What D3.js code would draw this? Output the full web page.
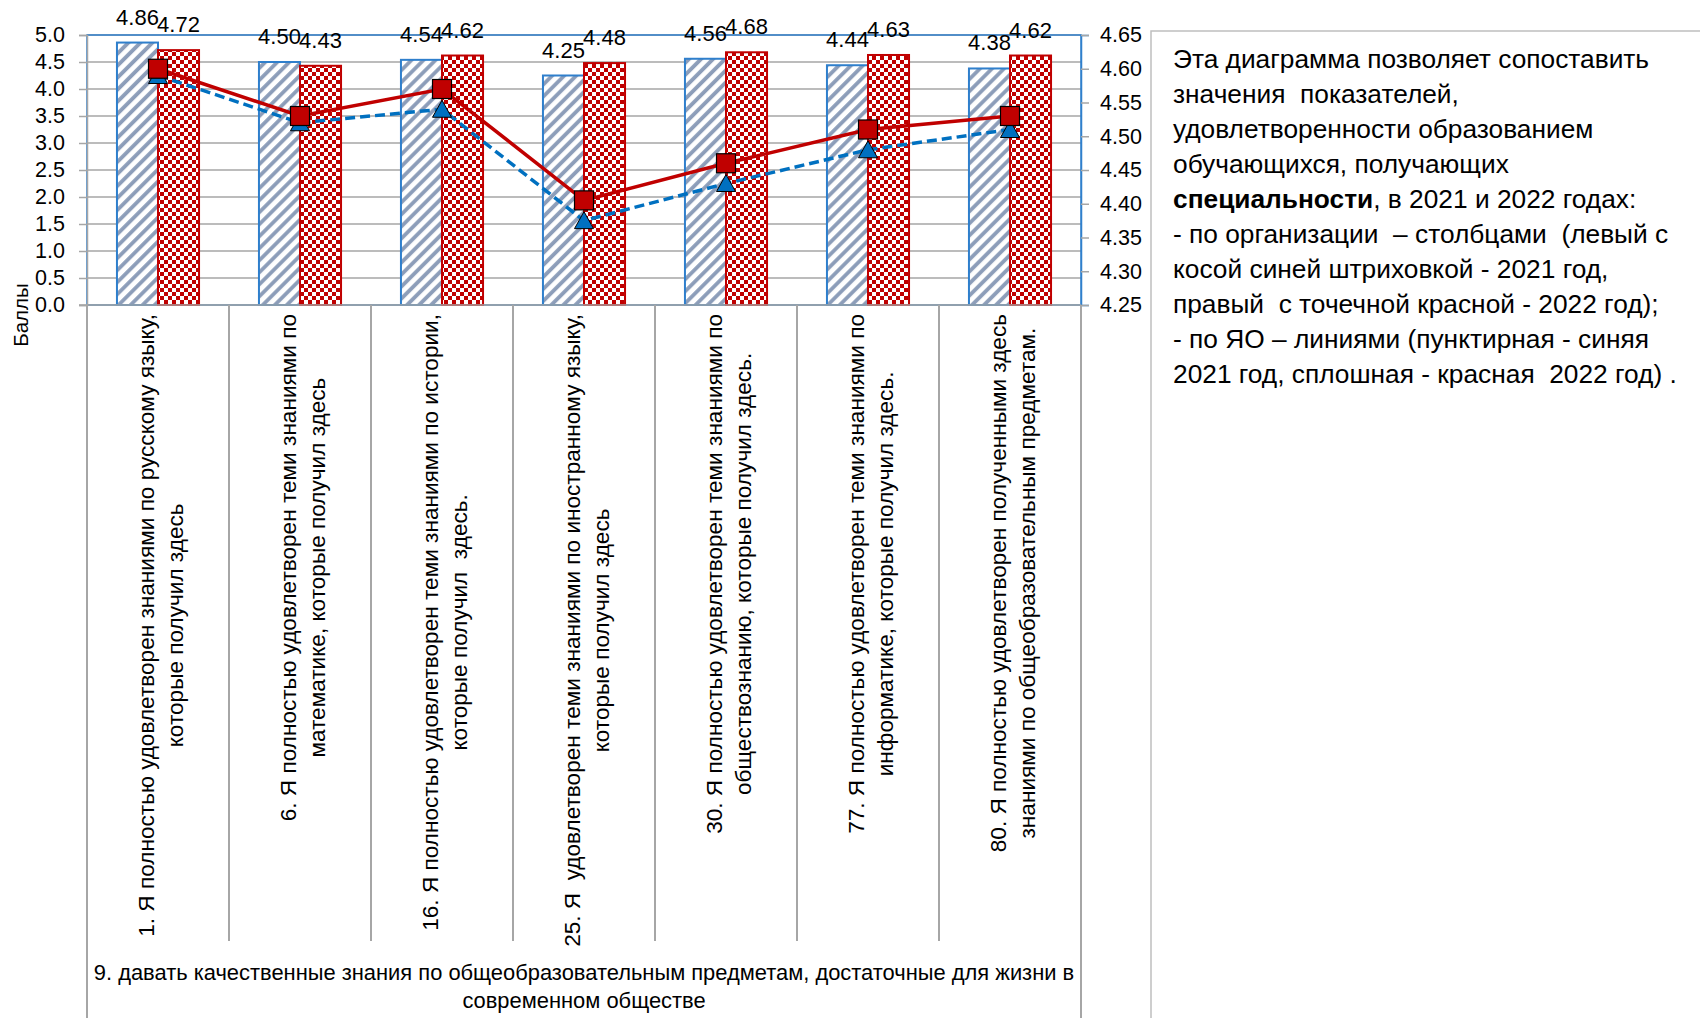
<!DOCTYPE html>
<html>
<head>
<meta charset="utf-8">
<script src="https://cdn.jsdelivr.net/npm/d3@7"></script>
<style>
  html, body { margin: 0; padding: 0; background: #fff; }
  svg { display: block; }
  text { font-family: "Liberation Sans", Arial, sans-serif; fill: #000; }
</style>
</head>
<body>
<svg id="chart" width="1700" height="1018"></svg>
<script>
// ---------------- DATA ----------------
const categories = ["1", "6", "16", "25", "30", "77", "80"];
const categoryLabels = [
  ["1. Я полностью удовлетворен знаниями по русскому языку,", "которые получил здесь"],
  ["6. Я полностью удовлетворен теми знаниями по", "математике, которые получил здесь"],
  ["16. Я полностью удовлетворен теми знаниями по истории,", "которые получил  здесь."],
  ["25. Я  удовлетворен теми знаниями по иностранному языку,", "которые получил здесь"],
  ["30. Я полностью удовлетворен теми знаниями по", "обществознанию, которые получил здесь."],
  ["77. Я полностью удовлетворен теми знаниями по", "информатике, которые получил здесь."],
  ["80. Я полностью удовлетворен полученными здесь", "знаниями по общеобразовательным предметам."]
];
const groupLabel = ["9. давать качественные знания по общеобразовательным предметам, достаточные для жизни в",
                    "современном обществе"];
const org2021 = [4.86, 4.50, 4.54, 4.25, 4.56, 4.44, 4.38];
const org2022 = [4.72, 4.43, 4.62, 4.48, 4.68, 4.63, 4.62];
const yo2021 = [4.59, 4.52, 4.54, 4.375, 4.43, 4.48, 4.51];
const yo2022 = [4.60, 4.53, 4.57, 4.405, 4.46, 4.51, 4.53];
const leftTicks = [0, 0.5, 1, 1.5, 2, 2.5, 3, 3.5, 4, 4.5, 5];
const rightTicks = [4.25, 4.30, 4.35, 4.40, 4.45, 4.50, 4.55, 4.60, 4.65];
const yTitle = "Баллы";
const noteLines = [
  [{t: "Эта диаграмма позволяет сопоставить"}],
  [{t: "значения  показателей,"}],
  [{t: "удовлетворенности образованием"}],
  [{t: "обучающихся, получающих"}],
  [{t: "специальности", b: true}, {t: ", в 2021 и 2022 годах:"}],
  [{t: "- по организации  – столбцами  (левый с"}],
  [{t: "косой синей штриховкой - 2021 год,"}],
  [{t: "правый  с точечной красной - 2022 год);"}],
  [{t: "- по ЯО – линиями (пунктирная - синяя"}],
  [{t: "2021 год, сплошная - красная  2022 год) ."}]
];

// ---------------- LAYOUT ----------------
const svg = d3.select("#chart");
const P = {left: 87, right: 1081, top: 35, bottom: 305};
const BLUE = "#2F7FCC", RED = "#C00000", HATCH = "#8C9DB9", GRID = "#A6A6A6";

const defs = svg.append("defs");
const hatch = defs.append("pattern").attr("id", "hatch").attr("patternUnits", "userSpaceOnUse")
  .attr("width", 8.5).attr("height", 8.5).attr("patternTransform", "rotate(45)");
hatch.append("rect").attr("width", 8.5).attr("height", 8.5).attr("fill", "#fff");
hatch.append("line").attr("x1", 2).attr("y1", 0).attr("x2", 2).attr("y2", 8.5)
  .attr("stroke", HATCH).attr("stroke-width", 3.8);
const checker = defs.append("pattern").attr("id", "checker").attr("patternUnits", "userSpaceOnUse")
  .attr("width", 8).attr("height", 8);
checker.append("rect").attr("width", 8).attr("height", 8).attr("fill", "#fff");
checker.append("rect").attr("width", 4).attr("height", 4).attr("fill", RED);
checker.append("rect").attr("x", 4).attr("y", 4).attr("width", 4).attr("height", 4).attr("fill", RED);

const x = d3.scaleBand().domain(categories).range([P.left, P.right]).padding(0);
const xs = d3.scaleBand().domain(["2021", "2022"]).range([0, x.bandwidth()])
  .paddingInner(0).paddingOuter(0.73);
const yL = d3.scaleLinear().domain([0, 5]).range([P.bottom, P.top]);
const yR = d3.scaleLinear().domain([4.25, 4.65]).range([P.bottom, P.top]);

// gridlines
svg.append("g").selectAll("line").data(leftTicks).join("line")
  .attr("x1", P.left).attr("x2", P.right)
  .attr("y1", d => yL(d)).attr("y2", d => yL(d))
  .attr("stroke", GRID).attr("stroke-width", 1.5);

// plot border (blue)
svg.append("rect").attr("x", P.left).attr("y", P.top)
  .attr("width", P.right - P.left).attr("height", P.bottom - P.top)
  .attr("fill", "none").attr("stroke", BLUE).attr("stroke-width", 1.5);

// left axis
const gl = svg.append("g").attr("transform", `translate(${P.left},0)`)
  .call(d3.axisLeft(yL).tickValues(leftTicks).tickFormat(d3.format(".1f")).tickSize(8).tickPadding(14));
gl.select(".domain").attr("stroke", GRID).attr("stroke-width", 1.5);
gl.selectAll(".tick line").attr("stroke", GRID).attr("stroke-width", 1.5);
gl.selectAll(".tick text").attr("font-size", 21.5).attr("font-family", "Liberation Sans").attr("fill", "#000");

// right axis
const gr = svg.append("g").attr("transform", `translate(${P.right},0)`)
  .call(d3.axisRight(yR).tickValues(rightTicks).tickFormat(d3.format(".2f")).tickSize(8).tickPadding(11));
gr.select(".domain").attr("stroke", BLUE).attr("stroke-width", 1.5);
gr.selectAll(".tick line").attr("stroke", GRID).attr("stroke-width", 1.5);
gr.selectAll(".tick text").attr("font-size", 21.5).attr("font-family", "Liberation Sans").attr("fill", "#000");

// bars
const bars = svg.append("g");
categories.forEach((c, i) => {
  const vals = [{k: "2021", v: org2021[i]}, {k: "2022", v: org2022[i]}];
  bars.selectAll(null).data(vals).join("rect")
    .attr("x", d => x(c) + xs(d.k))
    .attr("y", d => yL(d.v))
    .attr("width", xs.bandwidth())
    .attr("height", d => yL(0) - yL(d.v))
    .attr("fill", d => d.k === "2021" ? "url(#hatch)" : "url(#checker)")
    .attr("stroke", d => d.k === "2021" ? BLUE : RED)
    .attr("stroke-width", 2);
  bars.selectAll(null).data(vals).join("text")
    .attr("x", d => x(c) + xs(d.k) + xs.bandwidth() / 2)
    .attr("y", d => yL(d.v) - 18)
    .attr("text-anchor", "middle").attr("font-size", 22)
    .text(d => d3.format(".2f")(d.v));
});

// bottom axis line
svg.append("line").attr("x1", P.left - 8).attr("x2", P.right).attr("y1", P.bottom).attr("y2", P.bottom)
  .attr("stroke", GRID).attr("stroke-width", 1.5);

// lines (right axis)
const cx = c => x(c) + x.bandwidth() / 2;
const lineGen = arr => d3.line().x((d, i) => cx(categories[i])).y(d => yR(d))(arr);
svg.append("path").attr("d", lineGen(yo2021)).attr("fill", "none")
  .attr("stroke", "#0070C0").attr("stroke-width", 3.5).attr("stroke-dasharray", "10,5");
svg.append("g").selectAll("path").data(yo2021).join("path")
  .attr("transform", (d, i) => `translate(${cx(categories[i])},${yR(d)})`)
  .attr("d", "M0,-9 L9.5,8 L-9.5,8 Z")
  .attr("fill", "#0070C0").attr("stroke", "#000").attr("stroke-width", 1);
svg.append("path").attr("d", lineGen(yo2022)).attr("fill", "none")
  .attr("stroke", RED).attr("stroke-width", 3.5);
svg.append("g").selectAll("rect").data(yo2022).join("rect")
  .attr("x", (d, i) => cx(categories[i]) - 9.5).attr("y", d => yR(d) - 9.5)
  .attr("width", 19).attr("height", 19)
  .attr("fill", RED).attr("stroke", "#000").attr("stroke-width", 1.2);

// category dividers
const divs = d3.range(categories.length + 1).map(i => P.left + i * x.bandwidth());
svg.append("g").selectAll("line").data(divs).join("line")
  .attr("x1", d => d).attr("x2", d => d)
  .attr("y1", P.bottom).attr("y2", (d, i) => (i === 0 || i === categories.length) ? 1018 : 941)
  .attr("stroke", GRID).attr("stroke-width", 2);

// category labels (rotated)
const labTop = 314;
const lg = svg.append("g");
categories.forEach((c, i) => {
  const lines = categoryLabels[i];
  const offs = [-12, 17];
  const nodes = lines.map((t, j) => lg.append("text")
    .attr("font-size", 22.6).attr("text-anchor", "middle").attr("dominant-baseline", "central")
    .attr("xml:space", "preserve").style("white-space", "pre")
    .text(t));
  const maxLen = d3.max(nodes, n => n.node().getComputedTextLength());
  nodes.forEach((n, j) => n.attr("transform",
    `translate(${cx(c) + offs[j]},${labTop + maxLen / 2}) rotate(-90)`));
});

// group label
svg.append("g").selectAll("text").data(groupLabel).join("text")
  .attr("x", (P.left + P.right) / 2).attr("y", (d, i) => 980 + i * 28)
  .attr("text-anchor", "middle").attr("font-size", 21.9).text(d => d);

// y axis title
svg.append("text").attr("transform", "translate(28,315) rotate(-90)")
  .attr("text-anchor", "middle").attr("font-size", 20.5).text(yTitle);

// note box
svg.append("path").attr("d", "M1151,1018 L1151,31 L1700,31")
  .attr("fill", "none").attr("stroke", "#BFBFBF").attr("stroke-width", 1.5);
const note = svg.append("g");
noteLines.forEach((parts, i) => {
  const t = note.append("text").attr("x", 1173).attr("y", 67.5 + i * 35.05)
    .attr("font-size", 26.3).attr("xml:space", "preserve").style("white-space", "pre");
  parts.forEach(p => t.append("tspan").attr("font-weight", p.b ? "bold" : "normal").text(p.t));
});
</script>
</body>
</html>
